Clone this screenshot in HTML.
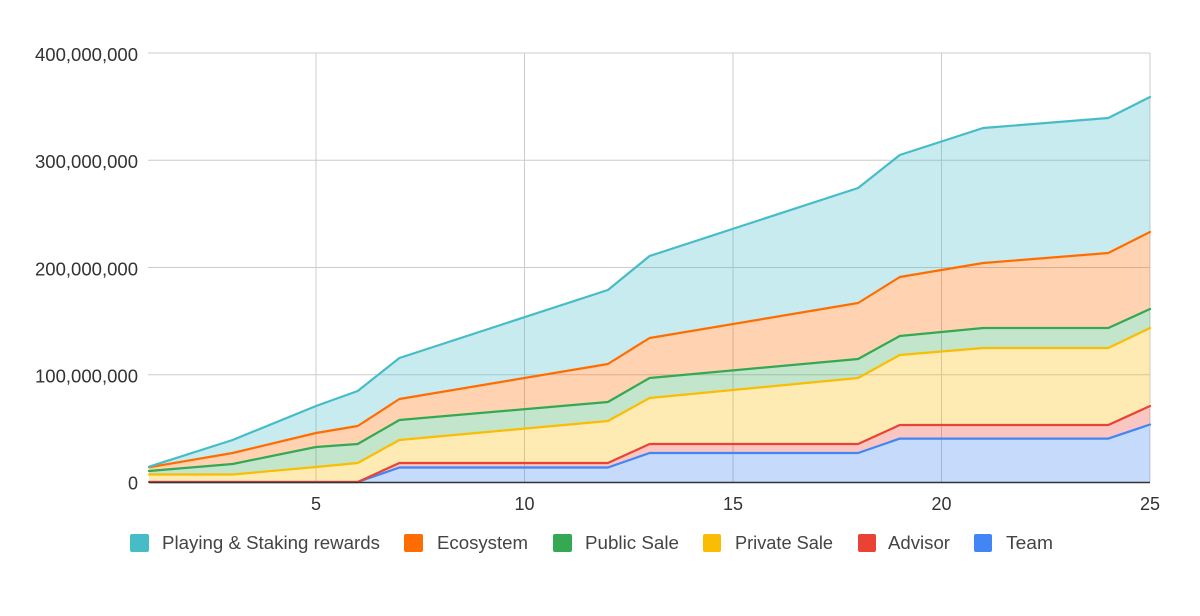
<!DOCTYPE html>
<html>
<head>
<meta charset="utf-8">
<style>
  html,body{margin:0;padding:0;background:#fff;}
  svg{display:block;}
  text{font-family:"Liberation Sans", Arial, sans-serif;}
</style>
</head>
<body>
<svg width="1200" height="616" viewBox="0 0 1200 616" xmlns="http://www.w3.org/2000/svg">
  <rect width="1200" height="616" fill="#fff"/>
  <!-- horizontal gridlines -->
  <g stroke="#cccccc" stroke-width="1">
    <line x1="148" y1="53" x2="1150" y2="53"/>
    <line x1="148" y1="160.25" x2="1150" y2="160.25"/>
    <line x1="148" y1="267.5" x2="1150" y2="267.5"/>
    <line x1="148" y1="374.75" x2="1150" y2="374.75"/>
    <line x1="316" y1="53" x2="316" y2="482"/>
    <line x1="524.5" y1="53" x2="524.5" y2="482"/>
    <line x1="733" y1="53" x2="733" y2="482"/>
    <line x1="941.5" y1="53" x2="941.5" y2="482"/>
    <line x1="1150" y1="53" x2="1150" y2="482"/>
  </g>

  <!-- areas -->
  <g fill-opacity="0.3" stroke="none">
    <polygon fill="#4285F4" points="149,482 232.6,482 316,482 357.7,482 399.4,467.5 607.9,467.5 649.6,453 858.1,453 899.8,438.6 983.2,438.6 1108.3,438.6 1150,424.5 1150,482 149,482"/>
    <polygon fill="#EA4335" points="149,482 232.6,482 316,482 357.7,482 399.4,463 607.9,463 649.6,444 858.1,444 899.8,425 983.2,425 1108.3,425 1150,406 1150,424.5 1108.3,438.6 983.2,438.6 899.8,438.6 858.1,453 649.6,453 607.9,467.5 399.4,467.5 357.7,482 316,482 232.6,482 149,482"/>
    <polygon fill="#FBBC04" points="149,474.5 232.6,474.5 316,467 357.7,463 399.4,440 607.9,421 649.6,398 858.1,378 899.8,355 983.2,348 1108.3,348 1150,328 1150,406 1108.3,425 983.2,425 899.8,425 858.1,444 649.6,444 607.9,463 399.4,463 357.7,482 316,482 232.6,482 149,482"/>
    <polygon fill="#34A853" points="149,471 232.6,464 316,447 357.7,444 399.4,420 607.9,402 649.6,378 858.1,359 899.8,336 983.2,328 1108.3,328 1150,309 1150,328 1108.3,348 983.2,348 899.8,355 858.1,378 649.6,398 607.9,421 399.4,440 357.7,463 316,467 232.6,474.5 149,474.5"/>
    <polygon fill="#FF6D01" points="149,467.3 232.6,453 316,433 357.7,426 399.4,399 607.9,364 649.6,338 858.1,303 899.8,277 983.2,263 1108.3,253 1150,232 1150,309 1108.3,328 983.2,328 899.8,336 858.1,359 649.6,378 607.9,402 399.4,420 357.7,444 316,447 232.6,464 149,471"/>
    <polygon fill="#46BDC6" points="149,466.7 232.6,440 316,406 357.7,391 399.4,358 607.9,290 649.6,256 858.1,188 899.8,155 983.2,128 1108.3,118 1150,97 1150,232 1108.3,253 983.2,263 899.8,277 858.1,303 649.6,338 607.9,364 399.4,399 357.7,426 316,433 232.6,453 149,467.3"/>
  </g>

  <!-- lines -->
  <g fill="none" stroke-width="2.2" stroke-linejoin="round" stroke-linecap="round">
    <polyline stroke="#4285F4" points="149,482 232.6,482 316,482 357.7,482 399.4,467.5 607.9,467.5 649.6,453 858.1,453 899.8,438.6 983.2,438.6 1108.3,438.6 1150,424.5"/>
    <polyline stroke="#EA4335" points="149,482 232.6,482 316,482 357.7,482 399.4,463 607.9,463 649.6,444 858.1,444 899.8,425 983.2,425 1108.3,425 1150,406"/>
    <polyline stroke="#FBBC04" points="149,474.5 232.6,474.5 316,467 357.7,463 399.4,440 607.9,421 649.6,398 858.1,378 899.8,355 983.2,348 1108.3,348 1150,328"/>
    <polyline stroke="#34A853" points="149,471 232.6,464 316,447 357.7,444 399.4,420 607.9,402 649.6,378 858.1,359 899.8,336 983.2,328 1108.3,328 1150,309"/>
    <polyline stroke="#FF6D01" points="149,467.3 232.6,453 316,433 357.7,426 399.4,399 607.9,364 649.6,338 858.1,303 899.8,277 983.2,263 1108.3,253 1150,232"/>
    <polyline stroke="#46BDC6" points="149,466.7 232.6,440 316,406 357.7,391 399.4,358 607.9,290 649.6,256 858.1,188 899.8,155 983.2,128 1108.3,118 1150,97"/>
  </g>

  <!-- baseline axis -->
  <line x1="149" y1="482.5" x2="1150" y2="482.5" stroke="#333" stroke-width="1.5"/>

  <!-- y labels -->
  <g font-size="18" fill="#333" text-anchor="end">
    <text x="138" y="61" textLength="103" lengthAdjust="spacingAndGlyphs">400,000,000</text>
    <text x="138" y="168" textLength="103" lengthAdjust="spacingAndGlyphs">300,000,000</text>
    <text x="138" y="275.5" textLength="103" lengthAdjust="spacingAndGlyphs">200,000,000</text>
    <text x="138" y="382.5" textLength="103" lengthAdjust="spacingAndGlyphs">100,000,000</text>
    <text x="138" y="489.5">0</text>
  </g>

  <!-- x labels -->
  <g font-size="18" fill="#333" text-anchor="middle">
    <text x="316" y="510">5</text>
    <text x="524.5" y="510">10</text>
    <text x="733" y="510">15</text>
    <text x="941.5" y="510">20</text>
    <text x="1150" y="510">25</text>
  </g>

  <!-- legend -->
  <g>
    <rect x="130" y="534" width="19" height="18" rx="2" fill="#46BDC6"/>
    <rect x="404" y="534" width="19" height="18" rx="2" fill="#FF6D01"/>
    <rect x="553" y="534" width="19" height="18" rx="2" fill="#34A853"/>
    <rect x="703" y="534" width="18" height="18" rx="2" fill="#FBBC04"/>
    <rect x="858" y="534" width="18" height="18" rx="2" fill="#EA4335"/>
    <rect x="974" y="534" width="18" height="18" rx="2" fill="#4285F4"/>
  </g>
  <g font-size="18.5" fill="#444">
    <text x="162" y="549" textLength="218" lengthAdjust="spacingAndGlyphs">Playing &amp; Staking rewards</text>
    <text x="437" y="549" textLength="91" lengthAdjust="spacingAndGlyphs">Ecosystem</text>
    <text x="585" y="549" textLength="94" lengthAdjust="spacingAndGlyphs">Public Sale</text>
    <text x="735" y="549" textLength="98" lengthAdjust="spacingAndGlyphs">Private Sale</text>
    <text x="888" y="549" textLength="62" lengthAdjust="spacingAndGlyphs">Advisor</text>
    <text x="1006" y="549" textLength="47" lengthAdjust="spacingAndGlyphs">Team</text>
  </g>
</svg>
</body>
</html>
